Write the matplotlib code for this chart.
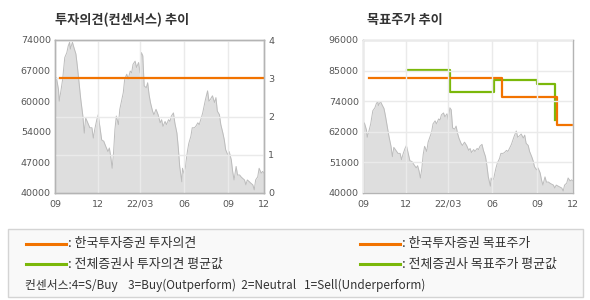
import matplotlib
matplotlib.use('Agg')
import matplotlib.pyplot as plt
from matplotlib.patches import Rectangle
from matplotlib.lines import Line2D
import numpy as np

plt.rcParams['font.family'] = ['Noto Sans CJK KR', 'DejaVu Sans']

# trading-day index (0 = 2021-09) and close price
days = [0, 2, 5, 6, 8, 11, 14, 17, 19, 21, 22, 25, 27, 30, 32, 35, 37, 40, 42, 44,
        48, 50, 53, 55, 57, 60, 62, 65, 67, 70, 73, 76, 78, 80, 82, 84, 86, 88, 91, 93,
        96, 98, 100, 103, 105, 108, 110, 112, 115, 117, 120, 122, 124, 126, 128, 131, 133, 135, 137, 140,
        142, 145, 148, 151, 153, 155, 158, 160, 163, 165, 167, 170, 172, 175, 177, 179, 182, 183, 185, 187,
        188, 190, 192, 195, 197, 200, 202, 205, 207, 210, 212, 214, 216, 219, 221, 223, 226, 229, 231, 233,
        236, 238, 241, 243, 245, 248, 250, 253, 255, 257, 260, 262, 265, 267, 269, 272, 274, 276, 279, 281,
        284, 286, 288, 291, 293, 296, 298, 300]
price = [65300, 65650, 63000, 60400, 62200, 65300, 70100, 71200, 72700, 73500, 72000, 73500, 72400, 70900, 68300, 63800, 60800, 57100, 53300, 56700,
         55200, 54500, 54500, 52200, 54100, 56300, 57400, 54100, 51800, 51500, 50300, 49200, 50000, 48100, 45500, 48900, 54100, 57100, 55200, 58600,
         60800, 62300, 65300, 66400, 65300, 67100, 66700, 68600, 69300, 67900, 69000, 66700, 71200, 70500, 63800, 63400, 64500, 61900, 60100, 58200,
         57400, 58600, 57400, 55600, 56300, 54800, 55900, 55200, 56300, 55900, 57100, 57800, 55600, 53300, 50000, 45900, 42500, 45500, 44400, 45500,
         46900, 49200, 51000, 52600, 54500, 54500, 54800, 55600, 55200, 56700, 57800, 59300, 60800, 62700, 60400, 60800, 61600, 60100, 61200, 58200,
         57400, 55200, 53300, 51800, 49600, 48500, 49200, 47400, 44800, 42900, 45900, 44000, 44000, 43600, 43300, 42900, 41800, 42900, 42500, 42200,
         41800, 40700, 42900, 43600, 45500, 44400, 44800, 44400]

tick_days = [0, 62, 122, 185, 249, 300]
tick_labels = ['09', '12', '22/03', '06', '09', '12']

# investment opinion (consensus scale 1-4)
opinion_days = [7, 300]
opinion_kis = [3, 3]

# target price, Korea Investment & Securities (step changes)
tp_kis_days = [8, 199, 277, 298]
tp_kis = [82000, 75000, 65000, 65000]

# target price, all-broker average
tp_avg_days = [63, 124, 187, 249, 275]
tp_avg = [85200, 76900, 81500, 79800, 66600]

left_yticks = ['40000', '47000', '54000', '60000', '67000', '74000']
right_yticks = ['40000', '51000', '62000', '74000', '85000', '96000']

ORANGE = '#f27300'
GREEN = '#7bb80a'
FILL = '#dedede'
EDGE = '#bcbcbc'
SPINE = '#b4b4b4'
GRID = '#eaeaea'
TXT = '#555555'

fig = plt.figure(figsize=(5.9, 3.0), dpi=100)
W, H = 590, 300


def box(x0, y0, x1, y1):
    return [x0 / W, 1 - y1 / H, (x1 - x0) / W, (y1 - y0) / H]


def style(ax):
    for s in ax.spines.values():
        s.set_color(SPINE)
        s.set_linewidth(1)
    ax.tick_params(length=0, labelsize=6.8, labelcolor=TXT, pad=3)
    ax.set_xlim(0, 300)
    ax.set_xticks(tick_days)
    ax.set_xticklabels(tick_labels)
    ax.tick_params(axis='x', pad=5)
    for lbl in ax.get_xticklabels() + ax.get_yticklabels():
        lbl.set_family('DejaVu Sans')


# ---- left: opinion chart
ax1 = fig.add_axes(box(55, 40, 264, 193))
ax1.fill_between(days, price, 40000, color=FILL, lw=0)
ax1.plot(days, price, color=EDGE, lw=0.7)
ax1.set_ylim(40000, 74000)
ax1.set_yticks(np.linspace(40000, 74000, 6))
ax1.set_yticklabels(left_yticks)
style(ax1)
ax1.set_axisbelow(False)
ax1.grid(axis='x', color=GRID, lw=1)

ax1b = ax1.twinx()
ax1b.set_ylim(0, 4)
ax1b.set_yticks([0, 1, 2, 3, 4])
style(ax1b)
ax1b.grid(axis='y', color=GRID, lw=1)
ax1b.plot(opinion_days, opinion_kis, color=ORANGE, lw=1.6)

fig.text(55 / W, 1 - 20 / H, '투자의견(컨센서스) 추이', fontsize=9.5, fontweight='bold',
         color='#333333', va='center', ha='left')

# ---- right: target price chart
ax2 = fig.add_axes(box(363, 40, 573, 193))
ax2.fill_between(days, price, 40000, color=FILL, lw=0)
ax2.plot(days, price, color=EDGE, lw=0.7)
ax2.set_ylim(40000, 96000)
ax2.set_yticks(np.linspace(40000, 96000, 6))
ax2.set_yticklabels(right_yticks)
style(ax2)
ax2.set_axisbelow(False)
ax2.grid(color=GRID, lw=1)
ax2.step(tp_avg_days, tp_avg, where='post', color=GREEN, lw=1.6)
ax2.step(tp_kis_days, tp_kis, where='post', color=ORANGE, lw=1.6)

fig.text(367 / W, 1 - 20 / H, '목표주가 추이', fontsize=9.5, fontweight='bold',
         color='#333333', va='center', ha='left')

# ---- legend box
fig.add_artist(Rectangle((8 / W, 1 - 297 / H), 575 / W, 68 / H, transform=fig.transFigure,
                         fc='#f9f9f9', ec='#d4d4d4', lw=1))

entries = [
    (26, 66, 243.5, ORANGE, ': 한국투자증권 투자의견'),
    (360, 400, 243.5, ORANGE, ': 한국투자증권 목표주가'),
    (26, 66, 264, GREEN, ': 전체증권사 투자의견 평균값'),
    (360, 400, 264, GREEN, ': 전체증권사 목표주가 평균값'),
]
for x0, x1, y, c, label in entries:
    fig.add_artist(Line2D([x0 / W, x1 / W], [1 - y / H, 1 - y / H], color=c, lw=2.2,
                          transform=fig.transFigure))
    fig.text((x1 + 2) / W, 1 - y / H, label, fontsize=9.3, color='#333333', va='center', ha='left')

fig.text(25 / W, 1 - 285 / H,
         '컨센서스:4=S/Buy    3=Buy(Outperform)  2=Neutral   1=Sell(Underperform)',
         fontsize=8.5, color='#333333', va='center', ha='left')

fig.savefig('out.png', dpi=100, facecolor='white')
